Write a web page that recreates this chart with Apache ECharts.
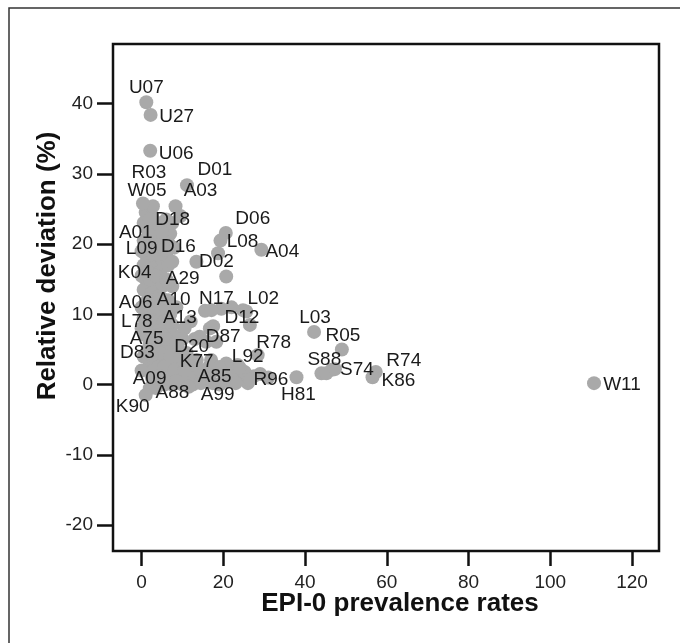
<!DOCTYPE html>
<html><head><meta charset="utf-8">
<script src="https://cdn.jsdelivr.net/npm/echarts@6/dist/echarts.min.js"></script>
<style>html,body{margin:0;padding:0;background:#fff}#c{width:680px;height:643px}</style>
</head><body><div id="c"></div>
<script>
// ---- data ----
const names = ["U07","U27","U06","R03","W05","D01","A03","D18","D06","L08","A04","A01","L09","D16","D02","K04","A29","A06","A10","N17","L02","L78","A13","D12","L03","R05","A75","D87","R78","D83","D20","S88","S74","R74","K86","K77","L92","A09","A85","R96","H81","W11","A88","A99","K90"];
const xVals = [1.15,2.2,2.1,2.77,0.33,11.1,8.3,4.9,20.6,19.3,29.3,2.0,3.2,5.6,13.4,1.5,6.4,1.5,4.9,17.1,25.6,2.0,6.9,26.5,42.2,49.0,3.9,17.5,28.4,2.4,14.2,45.2,47.3,57.3,56.5,14.2,24.0,4.4,19.1,26.5,37.9,110.7,5.6,17.4,1.0];
const yVals = [40.2,38.4,33.3,25.4,25.8,28.4,25.4,21.7,21.6,20.5,19.2,21.3,19.2,19.2,17.5,16.0,14.6,12.1,12.3,10.6,10.4,9.2,8.9,8.5,7.5,5.0,6.4,8.3,4.2,4.2,6.8,1.6,2.2,1.8,1.05,2.1,2.4,1.2,0.0,0.7,1.05,0.2,0.0,0.2,-1.5];
// unlabeled points
const otherX = [1.0,2.5,4.0,3.0,5.5,1.5,0.5,2.0,4.0,6.5,8.0,1.0,3.0,5.0,0.5,2.5,4.5,6.5,1.0,3.0,5.0,0.5,2.5,4.0,6.5,1.0,3.0,5.0,7.0,8.5,0.5,2.5,4.5,6.0,8.0,1.0,3.0,5.0,7.0,9.0,1.5,3.5,6.0,8.0,10.0,12.0,2.0,4.0,6.5,9.0,11.0,13.0,2.5,4.5,7.5,10.0,12.5,15.0,16.5,18.0,20.0,22.0,21.0,23.5,25.0,27.5,29.0,31.0,18.7,20.7,15.5,19.5,22.0,24.8,16.7,18.3,15.8,23.5,25.2,26.0,20.7,15.4,12.0,13.0,10.5,7.0,9.5,44.0,46.5,
  0.5,2.0,3.5,5.0,6.0,7.5,0.0,1.5,4.0,6.0,7.5,0.0,2.0,3.5,6.0,7.5,2.0,3.5,6.0,0.0,1.5,3.5,5.5,7.5,0.0,2.0,4.0,6.0,8.5,10.0,0.5,2.5,4.5,7.0,9.5,11.0,0.0,3.0,5.5,8.0,10.5,13.5,14.5,16.0,17.0,19.0,21.5,23.0,2.0,8.5,11.5,3.5];
const otherY = [24.5,24.0,23.0,22.5,22.8,22.0,20.5,20.0,20.5,20.2,19.5,18.5,18.0,17.5,17.0,16.5,16.0,17.0,15.0,14.5,14.0,13.5,13.0,12.5,12.0,11.0,10.5,10.5,10.0,11.0,9.5,8.5,8.0,7.5,7.0,7.0,6.5,5.5,5.5,5.0,5.0,4.0,3.5,3.5,3.0,3.0,3.0,2.5,1.5,1.5,1.0,1.5,1.0,0.5,0.0,0.0,0.0,1.0,2.5,2.0,1.5,2.5,0.5,1.0,1.8,1.2,1.5,1.0,18.7,15.4,10.5,10.8,11.0,10.6,8.0,6.1,6.1,2.8,1.8,0.2,3.0,0.7,9.0,6.5,8.0,21.5,24.0,1.6,2.1,
  23.0,23.5,21.5,21.0,23.5,23.0,19.0,19.5,18.5,18.5,17.5,15.5,15.0,15.5,15.0,14.0,11.5,12.0,11.0,11.0,8.0,9.0,9.0,8.5,8.0,6.0,7.0,6.5,6.0,6.5,4.0,5.0,4.5,4.0,4.0,4.5,2.0,2.0,2.5,2.0,2.0,3.5,0.2,1.5,3.5,2.5,1.5,0.2,-0.5,0.5,-0.3,-0.5];
const xTicks = [0,20,40,60,80,100,120];
const yTicks = [-20,-10,0,10,20,30,40];
const xTitle = "EPI-0 prevalence rates";
const yTitle = "Relative deviation (%)";

// ---- label placement (pixel offsets of label centre from point) ----
const labelOffsets = {U07:[0,-15],U27:[26,2],U06:[26,3],R03:[-4,-33],W05:[4,-13],D01:[28,-15],A03:[25,-15],D18:[11,-12],D06:[27,-14],L08:[22,1],A04:[21,2],A01:[-14,-2],L09:[-13,-1],D16:[14,-3],D02:[20,0],K04:[-13,1],A29:[15,-3],A06:[-12,3],A10:[12,2],N17:[5,-11],L02:[17,-13],L78:[-13,2],A13:[10,-4],D12:[-8,-7],L03:[1,-14],R05:[1,-14],A75:[-11,-1],D87:[10,10],R78:[16,-12],D83:[-14,-2],D20:[-8,10],S88:[-2,-14],S74:[22,1],R74:[28,-11],K86:[26,4],K77:[-3,-8],L92:[8,-11],A09:[-10,3],A85:[-5,-8],R96:[21,0],H81:[2,18],W11:[28,2],A88:[8,8],A99:[5,12],K90:[-13,12]};

const FONT = "'Liberation Sans', Arial, sans-serif";
const SYM = 14;
const labeledData = names.map((n,i)=>{
  const o = labelOffsets[n] || [0,0];
  return {
    value:[xVals[i], yVals[i]], name:n,
    label:{show:true, formatter:n, position:[SYM/2 + o[0], SYM/2 + o[1]], align:'center', verticalAlign:'middle'}
  };
});
const otherData = otherX.map((x,i)=>[x, otherY[i]]);

const chart = echarts.init(document.getElementById('c'), null, {renderer:'canvas'});
chart.setOption({
  animation:false,
  backgroundColor:'#fff',
  grid:{left:113, top:44, right:21, bottom:92, show:true, borderColor:'#111', borderWidth:2.5, backgroundColor:'transparent'},
  xAxis:{type:'value', min:-7, max:126.6,
    axisLine:{show:false, onZero:false}, splitLine:{show:false},
    axisTick:{show:true, length:15, lineStyle:{color:'#111', width:2.5}, customValues:xTicks},
    axisLabel:{show:true, customValues:xTicks, margin:22, color:'#222', fontSize:19, fontFamily:FONT}
  },
  yAxis:{type:'value', min:-23.7, max:48.5,
    axisLine:{show:false, onZero:false}, splitLine:{show:false},
    axisTick:{show:true, length:16, lineStyle:{color:'#111', width:2.5}, customValues:yTicks},
    axisLabel:{show:true, customValues:yTicks, margin:20, color:'#222', fontSize:19, fontFamily:FONT}
  },
  graphic:[
    {type:'rect', shape:{x:9, y:8, width:700, height:700}, style:{fill:'none', stroke:'#333', lineWidth:1.5}, silent:true, z:-10},
    {type:'text', x:400, y:604, style:{text:xTitle, font:"bold 26px "+FONT, fill:'#111', textAlign:'center', textVerticalAlign:'middle'}},
    {type:'text', x:48, y:266, rotation:Math.PI/2, style:{text:yTitle, font:"bold 26px "+FONT, fill:'#111', textAlign:'center', textVerticalAlign:'middle'}}
  ],
  series:[
    {type:'scatter', data:otherData, symbolSize:SYM, itemStyle:{color:'#a9a9a9', opacity:1}, silent:true, z:2},
    {type:'scatter', data:labeledData, symbolSize:SYM, itemStyle:{color:'#a9a9a9', opacity:1},
     label:{color:'#1a1a1a', fontSize:19, fontFamily:FONT}, labelLayout:{hideOverlap:false}, z:3}
  ]
});
</script></body></html>
